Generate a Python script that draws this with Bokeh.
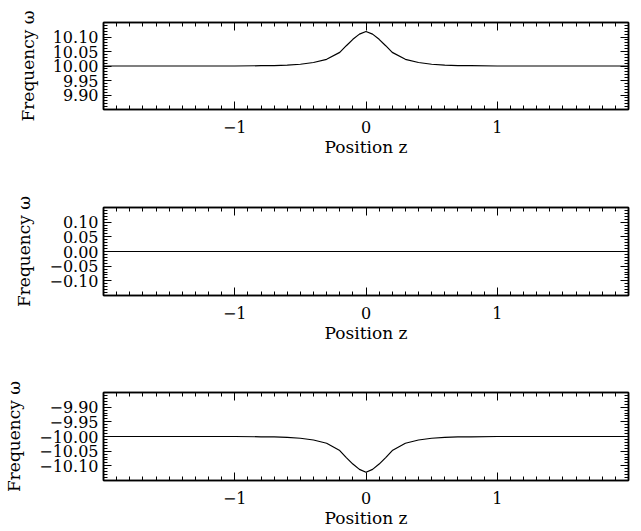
from bokeh.plotting import figure
from bokeh.models import Range1d, LinearAxis, FixedTicker, CustomJSTickFormatter
from bokeh.layouts import column
from bokeh.embed import file_html
from bokeh.resources import INLINE

# ---- data ----
position_z = [-2.0, -1.2, -1.0, -0.8, -0.7, -0.6, -0.5, -0.4, -0.3, -0.2, -0.15, -0.1, -0.05,
              0.0, 0.05, 0.1, 0.15, 0.2, 0.3, 0.4, 0.5, 0.6, 0.7, 0.8, 1.0, 1.2, 2.0]
freq_upper = [10.000, 10.000, 10.000, 10.001, 10.0015, 10.003, 10.006, 10.012, 10.023, 10.047,
              10.070, 10.092, 10.110, 10.119, 10.110, 10.092, 10.070, 10.047, 10.023, 10.012,
              10.006, 10.003, 10.0015, 10.001, 10.000, 10.000, 10.000]
freq_middle = [0.0] * len(position_z)
freq_lower = [-10.000, -10.000, -10.000, -10.001, -10.0015, -10.003, -10.006, -10.012, -10.023,
              -10.048, -10.072, -10.094, -10.112, -10.122, -10.112, -10.094, -10.072, -10.048,
              -10.023, -10.012, -10.006, -10.003, -10.0015, -10.001, -10.000, -10.000, -10.000]

x_ticks = [-1, 0, 1]
x_minor_ticks = [round(-2.0 + 0.1 * i, 2) for i in range(41)]
y_ticks_upper = [9.90, 9.95, 10.00, 10.05, 10.10]
y_ticks_middle = [-0.10, -0.05, 0.00, 0.05, 0.10]
y_ticks_lower = [-10.10, -10.05, -10.00, -9.95, -9.90]

x_title = "Position z"
y_title = "Frequency ω"

FONT = "DejaVu Serif"
TICK_FS = "16px"
LABEL_FS = "17px"


def make_panel(yvals, y0, y1, yticks, height, top, bottom):
    yminor = [round(y0 + 0.01 * i, 3) for i in range(31)]
    p = figure(width=636, height=height, output_backend="svg", toolbar_location=None,
               x_range=Range1d(-2.0, 2.0), y_range=Range1d(y0, y1),
               min_border_left=103, min_border_right=8, min_border_top=top,
               min_border_bottom=bottom, background_fill_color="white",
               border_fill_color="white")
    p.grid.visible = False
    p.outline_line_color = "black"
    p.outline_line_width = 1.5

    xt = FixedTicker(ticks=x_ticks, minor_ticks=x_minor_ticks)
    yt = FixedTicker(ticks=yticks, minor_ticks=yminor)
    minus_fmt = "return tick.toFixed(%d).replace('-', '\\u2212');"

    p.xaxis.ticker = xt
    p.xaxis.formatter = CustomJSTickFormatter(code=minus_fmt % 0)
    p.yaxis.ticker = yt
    p.yaxis.formatter = CustomJSTickFormatter(code=minus_fmt % 2)

    for ax in p.xaxis:
        ax.axis_label = x_title
        ax.major_label_standoff = 11
        ax.axis_label_standoff = 1
    for ax in p.yaxis:
        ax.axis_label = y_title
        ax.major_label_standoff = 5
        ax.axis_label_standoff = 12

    top_ax = LinearAxis(ticker=xt, formatter=CustomJSTickFormatter(code="return ''"))
    right_ax = LinearAxis(ticker=yt, formatter=CustomJSTickFormatter(code="return ''"))
    top_ax.major_label_standoff = 0
    right_ax.major_label_standoff = 0
    p.add_layout(top_ax, "above")
    p.add_layout(right_ax, "right")

    for ax in p.axis:
        ax.axis_line_color = "black"
        ax.axis_line_width = 1.5
        ax.major_tick_line_color = "black"
        ax.minor_tick_line_color = "black"
        ax.major_tick_in = 8
        ax.major_tick_out = 0
        ax.minor_tick_in = 4
        ax.minor_tick_out = 0
        ax.major_label_text_font = FONT
        ax.major_label_text_font_size = TICK_FS
        ax.major_label_text_color = "black"
        ax.axis_label_text_font = FONT
        ax.axis_label_text_font_size = LABEL_FS
        ax.axis_label_text_font_style = "normal"
        ax.axis_label_text_color = "black"

    p.line(position_z, yvals, line_color="black", line_width=1.2)
    return p


p1 = make_panel(freq_upper, 9.85, 10.15, y_ticks_upper, 195, 22, 86)
p2 = make_panel(freq_middle, -0.15, 0.15, y_ticks_middle, 186, 12, 86)
p3 = make_panel(freq_lower, -10.15, -9.85, y_ticks_lower, 150, 11, 51)

layout = column(p1, p2, p3)
open("out.html", "w").write(file_html(layout, INLINE))
